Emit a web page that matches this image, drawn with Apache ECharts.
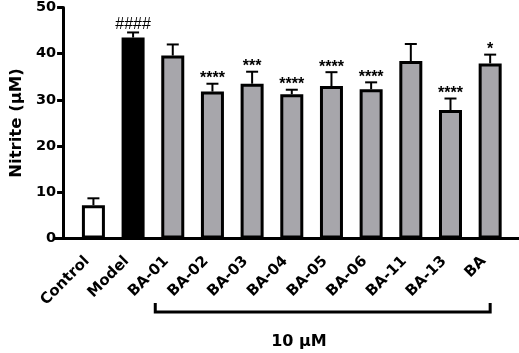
<!DOCTYPE html>
<html>
<head>
<meta charset="utf-8">
<script src="https://cdn.jsdelivr.net/npm/echarts@6/dist/echarts.min.js"></script>
<style>
  html, body { margin: 0; padding: 0; background: #fff; }
  #chart { width: 519px; height: 353px; }
</style>
</head>
<body>
<div id="chart"></div>
<script>
// groups along the x axis
const categories = ["Control", "Model", "BA-01", "BA-02", "BA-03", "BA-04", "BA-05", "BA-06", "BA-11", "BA-13", "BA"];
// mean nitrite (uM) and upper error (SEM)
const means = [7.2, 43.5, 39.6, 31.8, 33.5, 31.2, 33.0, 32.3, 38.4, 27.8, 37.9];
const errors = [1.5, 1.1, 2.4, 1.7, 2.6, 1.0, 3.0, 1.5, 3.7, 2.5, 1.9];
// significance marks above each bar
const marks = ["", "####", "", "****", "***", "****", "****", "****", "", "****", "*"];
const yTicks = [0, 10, 20, 30, 40, 50];
const groupLabel = "10 μM";

const FONT = "DejaVu Sans";
const MARK_FONT = "Liberation Sans";
const fills = categories.map((c, i) => (i === 0 ? "#ffffff" : i === 1 ? "#000000" : "#a7a6ab"));

const chart = echarts.init(document.getElementById("chart"));

const option = {
    animation: false,
    grid: { left: 64, right: 9, top: 6, bottom: 114.5 },
    xAxis: {
        type: "category",
        data: categories,
        axisLine: { lineStyle: { color: "#000", width: 3 } },
        axisTick: { alignWithLabel: true, length: 7, lineStyle: { width: 3, color: "#000" } },
        axisLabel: {
            interval: 0,
            rotate: 45,
            margin: 14,
            padding: [0, 9, 0, 0],
            color: "#000",
            fontFamily: FONT,
            fontWeight: "bold",
            fontSize: 15,
        },
    },
    yAxis: {
        type: "value",
        min: yTicks[0],
        max: yTicks[yTicks.length - 1],
        interval: 10,
        offset: 10.5,
        splitLine: { show: false },
        axisLine: { show: true, lineStyle: { color: "#000", width: 3 } },
        axisTick: { show: true, length: 6, lineStyle: { width: 3, color: "#000" } },
        axisLabel: { margin: 7, color: "#000", fontFamily: FONT, fontWeight: "bold", fontSize: 14.5 },
        name: "Nitrite (μM)",
        nameLocation: "middle",
        nameRotate: 90,
        nameGap: 37,
        nameTextStyle: { color: "#000", fontFamily: FONT, fontWeight: "bold", fontSize: 16.5 },
    },
    series: [
        {
            type: "bar",
            barWidth: 23,
            data: means.map((v, i) => ({
                value: v,
                itemStyle: { color: fills[i], borderColor: "#000", borderWidth: 3 },
            })),
            z: 2,
        },
        {
            type: "custom",
            z: 3,
            data: means.map((v, i) => [i, v, v + errors[i]]),
            renderItem(params, api) {
                const base = api.coord([api.value(0), api.value(1)]);
                const top = api.coord([api.value(0), api.value(2)]);
                const x = base[0];
                const children = [
                    {
                        type: "line",
                        shape: { x1: x, y1: base[1], x2: x, y2: top[1] },
                        style: { stroke: "#000", lineWidth: 2 },
                    },
                    {
                        type: "line",
                        shape: { x1: x - 6, y1: top[1], x2: x + 6, y2: top[1] },
                        style: { stroke: "#000", lineWidth: 2 },
                    },
                ];
                const m = marks[params.dataIndex];
                if (m) {
                    const hash = m[0] === "#";
                    children.push({
                        type: "text",
                        style: {
                            x: x,
                            y: top[1] + (hash ? 0 : 3),
                            text: m,
                            fill: "#000",
                            font: (hash ? "normal " : "bold ") + "16px '" + MARK_FONT + "'",
                            align: "center",
                            verticalAlign: "bottom",
                        },
                    });
                }
                return { type: "group", children };
            },
        },
    ],
};

chart.setOption(option);

// axis extension and the bracket under the treated groups
const y0 = chart.convertToPixel({ yAxisIndex: 0 }, 0);
const yAxisX = 64 - 10.5;
const xStart = chart.convertToPixel({ xAxisIndex: 0 }, "BA-01") - 17.5;
const xEnd = chart.convertToPixel({ xAxisIndex: 0 }, "BA");
const bracketY = 312;
chart.setOption({
    graphic: [
        { type: "line", shape: { x1: yAxisX, y1: y0, x2: 519, y2: y0 }, style: { stroke: "#000", lineWidth: 3 } },
        {
            type: "polyline",
            shape: { points: [[xStart, bracketY - 9], [xStart, bracketY], [xEnd, bracketY], [xEnd, bracketY - 9]] },
            style: { stroke: "#000", lineWidth: 3, fill: null },
        },
        {
            type: "text",
            x: 299,
            y: 342,
            style: {
                text: groupLabel,
                fill: "#000",
                font: "bold 16px '" + FONT + "'",
                align: "center",
                verticalAlign: "middle",
            },
        },
    ],
});
</script>
</body>
</html>
